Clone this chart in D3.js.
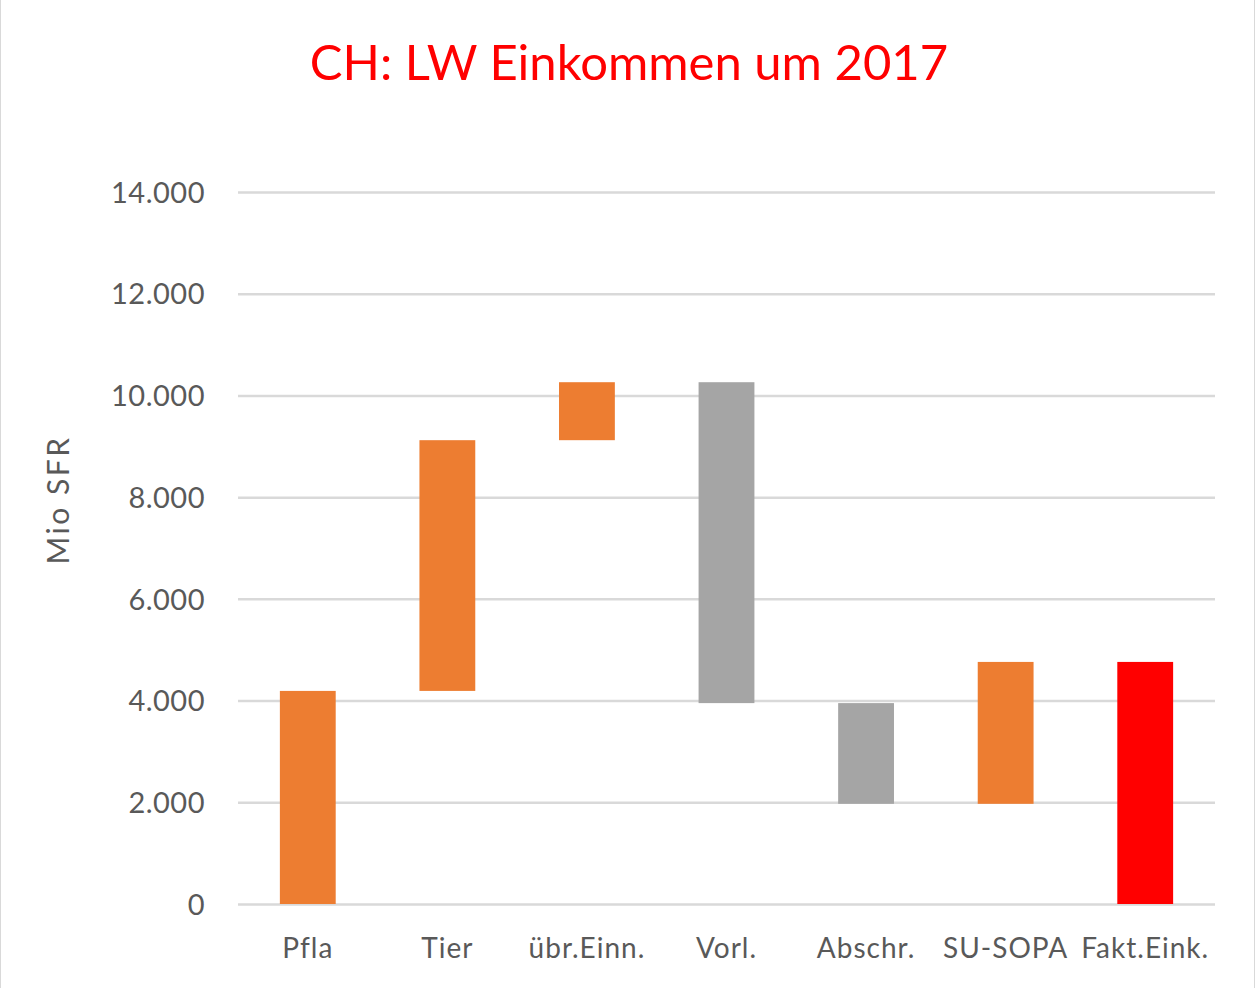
<!DOCTYPE html>
<html>
<head>
<meta charset="utf-8">
<script src="https://cdn.jsdelivr.net/npm/d3@7"></script>
<style>
  body { margin: 0; background: #fff; }
  text { font-family: Lato, "Open Sans", sans-serif; }
</style>
</head>
<body>
<script>
// Categories and the bottom / top of every floating bar (Mio SFR)
var categories = ["Pfla", "Tier", "übr.Einn.", "Vorl.", "Abschr.", "SU-SOPA", "Fakt.Eink."];
var lows  = [0,    4190, 9120,  3950,  1970, 1970, 0];
var highs = [4190, 9120, 10260, 10260, 3950, 4760, 4760];
var kinds = ["plus", "plus", "plus", "minus", "minus", "plus", "total"];
var yTicks = [0, 2000, 4000, 6000, 8000, 10000, 12000, 14000];

var colors = {plus: "#ED7D31", minus: "#A5A5A5", total: "#FF0000"};
var width = 1255, height = 988;
var plotLeft = 238, plotRight = 1215, plotTop = 192, plotBottom = 904;

var svg = d3.select("body").append("svg")
            .attr("width", width)
            .attr("height", height);

// chart frame
svg.append("rect")
   .attr("x", 0.5).attr("y", -2)
   .attr("width", width - 1).attr("height", height + 4)
   .attr("fill", "none")
   .attr("stroke", "#D9D9D9");

var x = d3.scaleBand()
          .domain(categories)
          .range([plotLeft, plotRight])
          .paddingInner(0.6)
          .paddingOuter(0.3);

var y = d3.scaleLinear()
          .domain([0, 14000])
          .range([plotBottom, plotTop]);

// gridlines + tick labels
var yAxis = svg.append("g")
               .attr("transform", "translate(" + plotLeft + ",0)")
               .call(d3.axisLeft(y)
                       .tickValues(yTicks)
                       .tickSize(-(plotRight - plotLeft))
                       .tickPadding(33)
                       .tickFormat(function(d){ return d3.format(",")(d).replace(/,/g, "."); }));
yAxis.select(".domain").remove();
yAxis.selectAll(".tick line")
     .attr("stroke", "#D9D9D9")
     .attr("stroke-width", 2.5);
yAxis.selectAll(".tick text")
     .attr("fill", "#595959")
     .attr("font-size", 29)
     .attr("letter-spacing", 0.5)
     .attr("dy", "0.35em");

// bars
svg.append("g").selectAll("rect")
   .data(categories)
   .join("rect")
   .attr("x", function(d){ return x(d); })
   .attr("y", function(d, i){ return y(highs[i]); })
   .attr("width", x.bandwidth())
   .attr("height", function(d, i){ return y(lows[i]) - y(highs[i]); })
   .attr("fill", function(d, i){ return colors[kinds[i]]; });

// category labels
var xAxis = svg.append("g")
               .attr("transform", "translate(0," + plotBottom + ")")
               .call(d3.axisBottom(x).tickSize(0).tickPadding(34));
xAxis.select(".domain").remove();
xAxis.selectAll(".tick text")
     .attr("fill", "#595959")
     .attr("font-size", 28)
     .attr("letter-spacing", 1);

// axis title
svg.append("text")
   .attr("transform", "translate(69,500) rotate(-90)")
   .attr("text-anchor", "middle")
   .attr("fill", "#595959")
   .attr("font-size", 30)
   .attr("letter-spacing", 2.5)
   .text("Mio SFR");

// chart title
svg.append("text")
   .attr("x", 629)
   .attr("y", 80)
   .attr("text-anchor", "middle")
   .attr("fill", "#FF0000")
   .attr("font-size", 49)
   .text("CH: LW Einkommen um 2017");
</script>
</body>
</html>
